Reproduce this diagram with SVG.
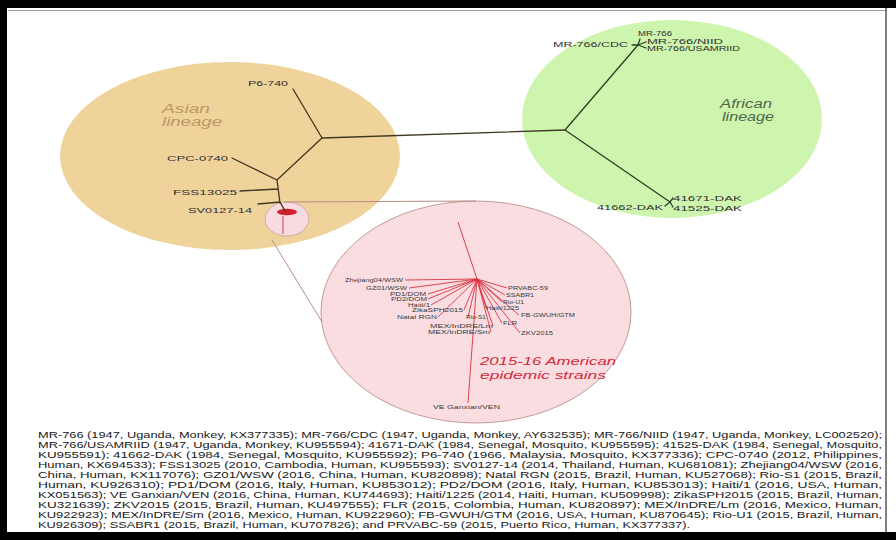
<svg xmlns="http://www.w3.org/2000/svg" width="896" height="540" viewBox="0 0 896 540">
  <style>
    .lbl { font-family: "Liberation Sans", Arial, sans-serif; font-size: 8px; fill: #2f2f2f; }
    .tiny { font-family: "Liberation Sans", Arial, sans-serif; font-size: 6.5px; fill: #2f2f2f; }
    .sm { font-family: "Liberation Sans", Arial, sans-serif; font-size: 5.5px; fill: #3a3a3a; }
    .lin { font-family: "Liberation Sans", Arial, sans-serif; font-style: italic; font-size: 12px; }
    .cap { font-family: "Liberation Sans", Arial, sans-serif; font-size: 9px; fill: #202020; }
    .red { font-family: "Liberation Sans", Arial, sans-serif; font-style: italic; font-size: 11.5px; fill: #d22a3c; }
    .asia { stroke: #3e3620; stroke-width: 1.3; fill: none; stroke-linecap: round; }
    .afr { stroke: #2b3f22; stroke-width: 1.3; fill: none; stroke-linecap: round; }
    .am { stroke: #d8323f; stroke-width: 0.9; fill: none; }
    .zoom { stroke: #b48d84; stroke-width: 1; fill: none; }
  </style>

  <!-- frame -->
  <rect x="0" y="0" width="896" height="540" fill="#000"/>
  <rect x="7" y="8" width="889" height="524" fill="#fff"/>
  <line x1="8" y1="10.5" x2="886" y2="10.5" stroke="#9a9a9a" stroke-width="1"/>
  <line x1="886" y1="8" x2="886" y2="532" stroke="#555" stroke-width="1.5"/>

  <!-- lineage backgrounds -->
  <g id="asian-lineage">
    <ellipse cx="230" cy="156" rx="170" ry="94" fill="#efd39b"/>
    <text class="lin" x="162" y="113" fill="#b99864" textLength="48" lengthAdjust="spacingAndGlyphs">Asian</text>
    <text class="lin" x="162" y="126" fill="#b99864" textLength="60" lengthAdjust="spacingAndGlyphs">lineage</text>
  </g>
  <g id="african-lineage">
    <ellipse cx="672" cy="119" rx="150" ry="99" fill="#cdf5ae"/>
    <text class="lin" x="720" y="108" fill="#50654c" textLength="52" lengthAdjust="spacingAndGlyphs">African</text>
    <text class="lin" x="722" y="121" fill="#50654c" textLength="52" lengthAdjust="spacingAndGlyphs">lineage</text>
  </g>
  <g id="american-inset">
    <ellipse cx="476" cy="312" rx="155" ry="111" fill="#f9dde1" stroke="#c39a98" stroke-width="1"/>
    <text class="red" x="480" y="365" textLength="136" lengthAdjust="spacingAndGlyphs">2015-16 American</text>
    <text class="red" x="480" y="379" textLength="126" lengthAdjust="spacingAndGlyphs">epidemic strains</text>
  </g>
  <g id="american-cluster">
    <ellipse cx="287" cy="219" rx="22" ry="17" fill="#f7dbe0" stroke="#d2aab0" stroke-width="1"/>
    <ellipse cx="287" cy="212" rx="10" ry="3.2" fill="#d2202f"/>
  </g>

  <!-- branches and zoom guides -->
  <g id="connectors">
    <line class="zoom" x1="284" y1="202" x2="476" y2="201"/>
    <line class="zoom" x1="272" y1="240" x2="322" y2="322"/>

    <path class="asia" d="M322,138 L293,89 M322,138 L277,180 L232,158 M277,180 L280,203 M240,191 L278,189 M258,204 L280,202 L285,211"/>
    <line class="asia" x1="322" y1="138" x2="565" y2="130"/>
    <line x1="283" y1="216" x2="283" y2="234" stroke="#c04656" stroke-width="1"/>

    <path class="afr" d="M565,130 L638,45 M565,130 L670,202"/>
    <path class="afr" stroke-width="0.9" d="M638,45 L640,39 M638,45 L632,45 M638,45 L646,42 M638,45 L646,48 M670,202 L673,198 M670,202 L665,206 M670,202 L673,207"/>

    <path class="am" d="M458,222 L477,279 L468,403
      M477,279 L405,280 M477,279 L409,288 M477,279 L428,294 M477,279 L428,299 M477,279 L431,305
      M477,279 L464,310 M477,279 L438,317 M477,279 L468,317
      M477,279 L493,326 M477,279 L491,332
      M477,279 L507,288 M477,279 L505,295 M477,279 L502,302 M477,279 L486,308 M477,279 L519,315 M477,279 L502,323 M477,279 L520,333"/>
  </g>

  <!-- Asian leaves -->
  <g id="leaf-P6-740"><text class="lbl" x="248" y="86" textLength="40" lengthAdjust="spacingAndGlyphs">P6-740</text></g>
  <g id="leaf-CPC-0740"><text class="lbl" x="167" y="161" textLength="61" lengthAdjust="spacingAndGlyphs">CPC-0740</text></g>
  <g id="leaf-FSS13025"><text class="lbl" x="173" y="195" textLength="64" lengthAdjust="spacingAndGlyphs">FSS13025</text></g>
  <g id="leaf-SV0127-14"><text class="lbl" x="188" y="213" textLength="64" lengthAdjust="spacingAndGlyphs">SV0127-14</text></g>

  <!-- African leaves -->
  <g id="leaf-MR-766"><text class="tiny" x="638" y="36" textLength="34" lengthAdjust="spacingAndGlyphs">MR-766</text></g>
  <g id="leaf-MR-766-CDC"><text class="tiny" x="553" y="47" textLength="75" lengthAdjust="spacingAndGlyphs">MR-766/CDC</text></g>
  <g id="leaf-MR-766-NIID"><text class="tiny" x="647" y="44" textLength="76" lengthAdjust="spacingAndGlyphs">MR-766/NIID</text></g>
  <g id="leaf-MR-766-USAMRIID"><text class="tiny" x="647" y="51" textLength="93" lengthAdjust="spacingAndGlyphs">MR-766/USAMRIID</text></g>
  <g id="leaf-41671-DAK"><text class="lbl" x="673" y="201" textLength="69" lengthAdjust="spacingAndGlyphs">41671-DAK</text></g>
  <g id="leaf-41662-DAK"><text class="lbl" x="597" y="210" textLength="66" lengthAdjust="spacingAndGlyphs">41662-DAK</text></g>
  <g id="leaf-41525-DAK"><text class="lbl" x="673" y="211" textLength="69" lengthAdjust="spacingAndGlyphs">41525-DAK</text></g>

  <!-- American leaves -->
  <g id="leaf-Zhejiang04"><text class="sm" x="345" y="282" textLength="58" lengthAdjust="spacingAndGlyphs">Zhejiang04/WSW</text></g>
  <g id="leaf-GZ01"><text class="sm" x="366" y="290" textLength="41" lengthAdjust="spacingAndGlyphs">GZ01/WSW</text></g>
  <g id="leaf-PD1"><text class="sm" x="390" y="296" textLength="36" lengthAdjust="spacingAndGlyphs">PD1/DOM</text></g>
  <g id="leaf-PD2"><text class="sm" x="391" y="301" textLength="36" lengthAdjust="spacingAndGlyphs">PD2/DOM</text></g>
  <g id="leaf-Haiti-1"><text class="sm" x="408" y="307" textLength="22" lengthAdjust="spacingAndGlyphs">Haiti/1</text></g>
  <g id="leaf-ZikaSPH2015"><text class="sm" x="412" y="312" textLength="51" lengthAdjust="spacingAndGlyphs">ZikaSPH2015</text></g>
  <g id="leaf-NatalRGN"><text class="sm" x="397" y="319" textLength="40" lengthAdjust="spacingAndGlyphs">Natal RGN</text></g>
  <g id="leaf-Rio-S1"><text class="sm" x="466" y="319" textLength="20" lengthAdjust="spacingAndGlyphs">Rio-S1</text></g>
  <g id="leaf-MEX-Lm"><text class="sm" x="430" y="328" textLength="63" lengthAdjust="spacingAndGlyphs">MEX/InDRE/Lm</text></g>
  <g id="leaf-MEX-Sm"><text class="sm" x="428" y="334" textLength="62" lengthAdjust="spacingAndGlyphs">MEX/InDRE/Sm</text></g>
  <g id="leaf-PRVABC-59"><text class="sm" x="508" y="290" textLength="40" lengthAdjust="spacingAndGlyphs">PRVABC-59</text></g>
  <g id="leaf-SSABR1"><text class="sm" x="506" y="297" textLength="28" lengthAdjust="spacingAndGlyphs">SSABR1</text></g>
  <g id="leaf-Rio-U1"><text class="sm" x="503" y="303.5" textLength="21" lengthAdjust="spacingAndGlyphs">Rio-U1</text></g>
  <g id="leaf-Haiti-1225"><text class="sm" x="486" y="310" textLength="33" lengthAdjust="spacingAndGlyphs">Haiti/1225</text></g>
  <g id="leaf-FB-GWUH"><text class="sm" x="521" y="317" textLength="54" lengthAdjust="spacingAndGlyphs">FB-GWUH/GTM</text></g>
  <g id="leaf-FLR"><text class="sm" x="503" y="325" textLength="14" lengthAdjust="spacingAndGlyphs">FLR</text></g>
  <g id="leaf-ZKV2015"><text class="sm" x="521" y="335" textLength="32" lengthAdjust="spacingAndGlyphs">ZKV2015</text></g>
  <g id="leaf-VE-Ganxian"><text class="sm" x="433" y="409" textLength="67" lengthAdjust="spacingAndGlyphs">VE Ganxian/VEN</text></g>

  <!-- strain list -->
  <g id="caption">
    <text class="cap" x="38" y="438" textLength="844" lengthAdjust="spacingAndGlyphs">MR-766 (1947, Uganda, Monkey, KX377335); MR-766/CDC (1947, Uganda, Monkey, AY632535); MR-766/NIID (1947, Uganda, Monkey, LC002520);</text>
    <text class="cap" x="38" y="448" textLength="844" lengthAdjust="spacingAndGlyphs">MR-766/USAMRIID (1947, Uganda, Monkey, KU955594); 41671-DAK (1984, Senegal, Mosquito, KU955595); 41525-DAK (1984, Senegal, Mosquito,</text>
    <text class="cap" x="38" y="458" textLength="844" lengthAdjust="spacingAndGlyphs">KU955591); 41662-DAK (1984, Senegal, Mosquito, KU955592); P6-740 (1966, Malaysia, Mosquito, KX377336); CPC-0740 (2012, Philippines,</text>
    <text class="cap" x="38" y="468" textLength="844" lengthAdjust="spacingAndGlyphs">Human, KX694533); FSS13025 (2010, Cambodia, Human, KU955593); SV0127-14 (2014, Thailand, Human, KU681081); Zhejiang04/WSW (2016,</text>
    <text class="cap" x="38" y="478" textLength="844" lengthAdjust="spacingAndGlyphs">China, Human, KX117076); GZ01/WSW (2016, China, Human, KU820898); Natal RGN (2015, Brazil, Human, KU527068); Rio-S1 (2015, Brazil,</text>
    <text class="cap" x="38" y="488" textLength="844" lengthAdjust="spacingAndGlyphs">Human, KU926310); PD1/DOM (2016, Italy, Human, KU853012); PD2/DOM (2016, Italy, Human, KU853013); Haiti/1 (2016, USA, Human,</text>
    <text class="cap" x="38" y="498" textLength="844" lengthAdjust="spacingAndGlyphs">KX051563); VE Ganxian/VEN (2016, China, Human, KU744693); Haiti/1225 (2014, Haiti, Human, KU509998); ZikaSPH2015 (2015, Brazil, Human,</text>
    <text class="cap" x="38" y="508" textLength="844" lengthAdjust="spacingAndGlyphs">KU321639); ZKV2015 (2015, Brazil, Human, KU497555); FLR (2015, Colombia, Human, KU820897); MEX/InDRE/Lm (2016, Mexico, Human,</text>
    <text class="cap" x="38" y="518" textLength="844" lengthAdjust="spacingAndGlyphs">KU922923); MEX/InDRE/Sm (2016, Mexico, Human, KU922960); FB-GWUH/GTM (2016, USA, Human, KU870645); Rio-U1 (2015, Brazil, Human,</text>
    <text class="cap" x="38" y="528" textLength="652" lengthAdjust="spacingAndGlyphs">KU926309); SSABR1 (2015, Brazil, Human, KU707826); and PRVABC-59 (2015, Puerto Rico, Human, KX377337).</text>
  </g>
</svg>
